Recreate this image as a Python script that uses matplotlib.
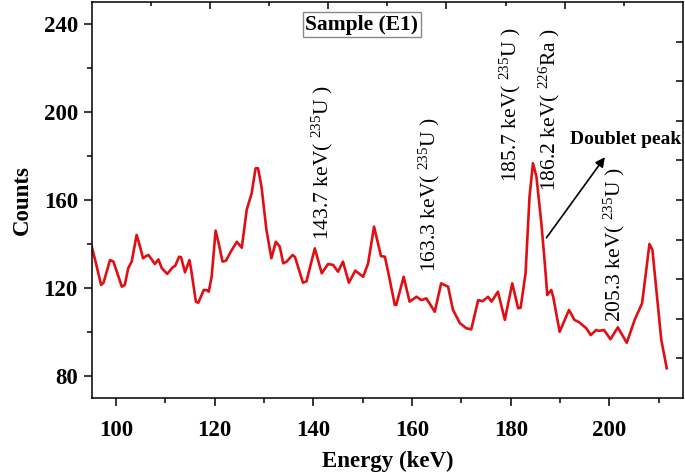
import numpy as np
import matplotlib
matplotlib.use("Agg")
import matplotlib.pyplot as plt
from matplotlib.ticker import MultipleLocator, FixedLocator, NullFormatter

plt.rcParams["font.family"] = ["Liberation Serif", "DejaVu Serif"]
plt.rcParams["mathtext.fontset"] = "custom"
plt.rcParams["mathtext.rm"] = "Liberation Serif"
plt.rcParams["mathtext.it"] = "Liberation Serif:italic"
plt.rcParams["mathtext.bf"] = "Liberation Serif:bold"

# spectrum (energy in keV, counts)
energy = [95.1, 95.8, 97.0, 97.5, 98.8, 99.5, 101.2, 101.8, 102.5, 103.2,
          104.2, 104.7, 105.5, 106.1, 106.6, 107.9, 108.6, 109.3, 110.4, 111.5,
          112.0, 112.8, 113.2, 114.0, 114.9, 115.2, 116.2, 116.7, 117.8, 118.4,
          118.8, 119.4, 120.2, 120.9, 121.6, 122.3, 123.4, 124.5, 125.5, 126.5,
          127.5, 128.3, 128.8, 129.5, 130.5, 131.5, 132.4, 133.2, 133.9, 134.6,
          135.8, 136.3, 137.9, 138.6, 140.3, 141.7, 143.0, 144.0, 145.0, 146.0,
          147.2, 148.5, 149.0, 150.1, 151.1, 152.3, 153.1, 153.7, 154.5, 155.5,
          156.5, 156.8, 158.3, 159.5, 160.9, 161.9, 162.9, 164.6, 165.9, 167.3,
          168.3, 169.7, 171.0, 172.0, 173.4, 174.3, 175.4, 176.1, 177.4, 178.8,
          180.3, 181.5, 182.0, 183.0, 183.8, 184.5, 185.2, 186.2, 186.9, 187.4,
          188.2, 188.6, 189.9, 191.8, 192.9, 193.8, 195.3, 196.2, 197.3, 197.9,
          198.9, 200.2, 201.7, 203.5, 205.1, 206.6, 207.2, 208.1, 208.7, 209.5,
          210.5, 211.6]
counts = [138.8, 132.7, 121.4, 122.4, 132.7, 132.0, 120.6, 121.4, 129.0, 132.0,
          144.1, 140.3, 133.5, 134.5, 135.0, 130.9, 133.0, 129.0, 126.4, 129.4,
          130.0, 134.2, 134.0, 127.1, 132.7, 129.0, 113.8, 113.3, 119.1, 119.0,
          118.3, 125.1, 146.1, 139.5, 132.0, 132.4, 137.0, 141.0, 138.3, 155.5,
          163.0, 174.4, 174.4, 166.0, 146.4, 133.5, 141.0, 138.8, 131.2, 132.0,
          135.0, 134.0, 122.4, 123.0, 138.0, 126.7, 130.9, 130.5, 127.4, 132.0,
          122.4, 127.9, 127.0, 125.1, 131.2, 147.9, 140.3, 134.5, 134.2, 123.6,
          112.3, 112.3, 125.1, 113.8, 116.0, 114.5, 115.3, 109.2, 122.1, 120.6,
          110.0, 104.0, 101.7, 101.2, 114.5, 114.0, 116.0, 113.8, 118.3, 105.5,
          122.1, 110.8, 111.0, 126.7, 161.5, 176.7, 170.6, 149.4, 131.2, 116.8,
          119.1, 116.0, 100.1, 110.0, 105.5, 104.5, 101.7, 98.6, 100.9, 100.5,
          100.9, 96.7, 102.1, 95.1, 105.5, 113.0, 123.6, 140.0, 137.3, 119.1,
          96.4, 83.5]

# peak labels: text, x, y (bottom of the rotated label)
peak_labels = [r"143.7 keV( $^{235}$U )", r"163.3 keV( $^{235}$U )",
               r"185.7 keV( $^{235}$U )", r"186.2 keV( $^{226}$Ra )",
               r"205.3 keV( $^{235}$U )"]
label_x = [141.9, 163.5, 180.0, 187.9, 201.0]
label_y = [141.8, 127.4, 168.0, 164.1, 104.7]

fig = plt.figure(figsize=(6.85, 4.72), dpi=100)
ax = fig.add_axes([0.1339, 0.1568, 0.8632, 0.839])

ax.plot(energy, counts, color="#e00f14", linewidth=1.9)

ax.set_xlim(95.1, 214.9)
ax.set_ylim(70, 250)
ax.xaxis.set_major_locator(MultipleLocator(20))
ax.xaxis.set_minor_locator(MultipleLocator(10))
ax.yaxis.set_major_locator(MultipleLocator(40))
ax.yaxis.set_minor_locator(MultipleLocator(20))
ax.tick_params(which="major", direction="out", length=6, width=1.1,
               labelsize=16.5, top=False, right=False)
ax.tick_params(axis="x", which="major", pad=10)
ax.tick_params(axis="y", which="major", pad=4)
ax.tick_params(which="minor", direction="out", length=3.5, width=1.1,
               top=False, right=False)
for lab in ax.get_xticklabels() + ax.get_yticklabels():
    lab.set_fontweight("bold")
for sp in ax.spines.values():
    sp.set_linewidth(1.1)

ax.set_xlabel("Energy (keV)", fontsize=16.5, fontweight="bold", labelpad=7)
ax.set_ylabel("Counts", fontsize=16.5, fontweight="bold", labelpad=8)

# top / right axes have their own evenly spaced ticks
ax2 = fig.add_axes(ax.get_position(), frameon=False)
ax2.set_xlim(0, 10)
ax2.set_ylim(0, 10)
ax2.xaxis.set_major_locator(FixedLocator([2, 4, 6, 8]))
ax2.xaxis.set_minor_locator(FixedLocator([1, 3, 5, 7, 9]))
ax2.yaxis.set_major_locator(FixedLocator([1, 2, 3, 4, 5, 6, 7, 8, 9]))
ax2.yaxis.set_minor_locator(FixedLocator([]))
ax2.xaxis.set_major_formatter(NullFormatter())
ax2.yaxis.set_major_formatter(NullFormatter())
ax2.tick_params(which="major", direction="in", length=5, width=1.1,
                bottom=False, left=False, top=True, right=True)
ax2.tick_params(which="minor", direction="in", length=3, width=1.1,
                bottom=False, left=False, top=True, right=False)

for txt, x, y in zip(peak_labels, label_x, label_y):
    ax.text(x, y, txt, rotation=90, ha="center", va="bottom", fontsize=15.5)

ax.text(0.457, 0.943, "Sample (E1)", transform=ax.transAxes, ha="center",
        va="center", fontsize=15.5, fontweight="bold",
        bbox=dict(boxstyle="square,pad=0.12", facecolor="white",
                  edgecolor="#888888", linewidth=1))

ax.annotate("", xy=(199.4, 180.5), xytext=(186.9, 141.8),
            arrowprops=dict(arrowstyle="-|>", color="black", lw=1.2,
                            mutation_scale=14))
ax.text(203.3, 187.7, "Doublet peak", ha="center", va="center",
        fontsize=14, fontweight="bold")

fig.savefig("out.png", dpi=100)
